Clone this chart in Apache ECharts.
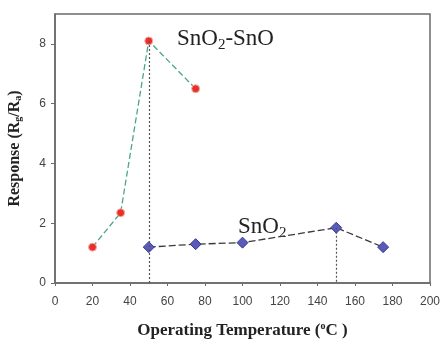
<!DOCTYPE html>
<html>
<head>
<meta charset="utf-8">
<script src="https://cdn.jsdelivr.net/npm/echarts@6/dist/echarts.min.js"></script>
<style>
  html, body { margin: 0; padding: 0; background: #fff; }
  #chart { width: 443px; height: 339px; }
</style>
</head>
<body>
<div id="chart"></div>
<script>
// temperatures (°C) and responses
const mixTemps = [20, 35, 50, 75];
const mixResp = [1.2, 2.35, 8.1, 6.5];
const pureTemps = [50, 75, 100, 150, 175];
const pureResp = [1.2, 1.3, 1.35, 1.85, 1.2];
// optimum points marked by dotted drop lines
const peaks = [[50, 8.1], [150, 1.85]];
const xTicks = [0, 200, 20];
const yTicks = [0, 9, 2];

const init = () => {
  let myChart = echarts.init(document.getElementById("chart"));
  const toPairs = (xs, ys) => xs.map((x, i) => [x, ys[i]]);
  const serif = "'Liberation Serif', 'DejaVu Serif', serif";
  const sans = "'Liberation Sans', Arial, sans-serif";
  const labelRich = {
    n: { fontFamily: serif, fontSize: 23, fill: '#222' },
    s: { fontFamily: serif, fontSize: 15, fill: '#222', verticalAlign: 'bottom', padding: [14, 0, 0, 0] }
  };

  let option = {
    animation: false,
    grid: {
      left: 55, right: 13, top: 14, bottom: 56,
      outerBoundsMode: 'none',
      containLabel: false,
      show: true, borderColor: '#6a6a6a', borderWidth: 1.5, backgroundColor: '#fff'
    },
    xAxis: {
      type: 'value',
      min: xTicks[0], max: xTicks[1], interval: xTicks[2],
      name: '{b|Operating Temperature (}{sup|o}{b|C )}',
      nameLocation: 'middle', nameGap: 38,
      nameTextStyle: {
        rich: {
          b: { fontFamily: serif, fontWeight: 'bold', fontSize: 17, color: '#222' },
          sup: { fontFamily: serif, fontWeight: 'bold', fontSize: 10, color: '#222', verticalAlign: 'top', padding: [0, 0, 9, 0] }
        }
      },
      axisLine: { lineStyle: { color: '#6a6a6a', width: 1.5 } },
      axisTick: { inside: false, length: 3, lineStyle: { color: '#6a6a6a' } },
      axisLabel: { color: '#444', fontFamily: sans, fontSize: 12, margin: 13 },
      splitLine: { show: false }
    },
    yAxis: {
      type: 'value',
      min: yTicks[0], max: yTicks[1], interval: yTicks[2],
      name: '{b|Response (R}{s|g}{b|/R}{s|a}{b|)}',
      nameLocation: 'middle', nameGap: 32,
      nameTextStyle: {
        rich: {
          b: { fontFamily: serif, fontWeight: 'bold', fontSize: 16, color: '#222' },
          s: { fontFamily: serif, fontWeight: 'bold', fontSize: 10, color: '#222', verticalAlign: 'bottom', padding: [7, 0, 0, 0] }
        }
      },
      axisLine: { show: true, lineStyle: { color: '#6a6a6a', width: 1.5 } },
      axisTick: { show: true, length: 4, lineStyle: { color: '#6a6a6a' } },
      axisLabel: { color: '#444', fontFamily: sans, fontSize: 12, margin: 9, showMaxLabel: false },
      splitLine: { show: false }
    },
    series: [
      {
        name: 'SnO2-SnO',
        type: 'line',
        data: toPairs(mixTemps, mixResp),
        symbol: 'circle',
        symbolSize: 8,
        itemStyle: { color: '#e8302a', borderColor: '#f7b0a8', borderWidth: 1 },
        lineStyle: { color: '#4aa58c', width: 1.3, type: [6, 3] },
        markLine: {
          silent: true,
          symbol: 'none',
          label: { show: false },
          lineStyle: { color: '#555', type: [2, 2], width: 1.2 },
          data: [[{ coord: [peaks[0][0], peaks[0][1]] }, { coord: [peaks[0][0], 0] }]]
        },
        z: 3
      },
      {
        name: 'SnO2',
        type: 'line',
        data: toPairs(pureTemps, pureResp),
        symbol: 'diamond',
        symbolSize: 11,
        itemStyle: { color: '#5a5ab8', borderColor: '#3a3a9a', borderWidth: 1 },
        lineStyle: { color: '#3a3a3a', width: 1.3, type: [7, 3] },
        markLine: {
          silent: true,
          symbol: 'none',
          label: { show: false },
          lineStyle: { color: '#555', type: [2, 2], width: 1.2 },
          data: [[{ coord: [peaks[1][0], peaks[1][1]] }, { coord: [peaks[1][0], 0] }]]
        },
        z: 3
      }
    ],
    graphic: [
      {
        type: 'text', left: 177, top: 27,
        style: { text: '{n|SnO}{s|2}{n|-SnO}', rich: labelRich }
      },
      {
        type: 'text', left: 238, top: 215,
        style: { text: '{n|SnO}{s|2}', rich: labelRich }
      }
    ]
  };
  myChart.setOption(option);
};

init();
</script>
</body>
</html>
